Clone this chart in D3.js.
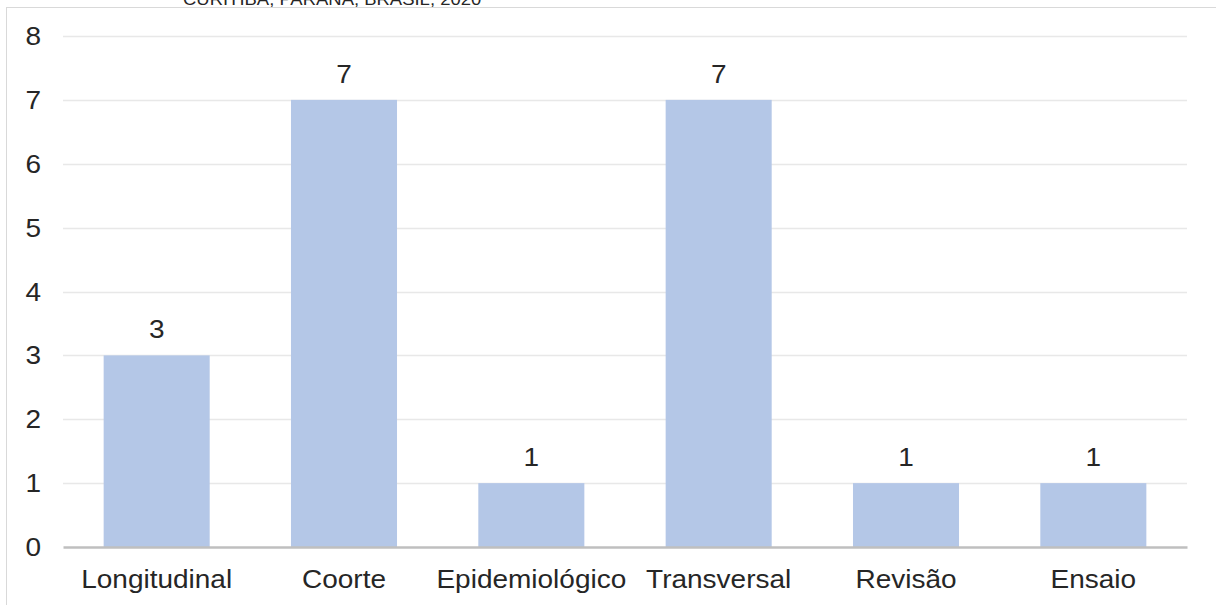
<!DOCTYPE html>
<html>
<head>
<meta charset="utf-8">
<script src="https://cdn.jsdelivr.net/npm/d3@7"></script>
<style>
  html, body { margin: 0; padding: 0; background: #fff; }
  svg { display: block; font-family: "Liberation Sans", Arial, sans-serif; }
</style>
</head>
<body>
<svg id="chart" width="1216" height="605"></svg>
<script>
// Study types and number of studies of each type
const categories = ["Longitudinal", "Coorte", "Epidemiológico", "Transversal", "Revisão", "Ensaio"];
const counts = [3, 7, 1, 7, 1, 1];
const yTicks = [0, 1, 2, 3, 4, 5, 6, 7, 8];
const titleText = "CURITIBA, PARANÁ, BRASIL, 2020";

const W = 1216, H = 605;
const margin = { left: 63, right: 29, top: 36, bottom: 58 };
const textColor = "#262626";
const stretch = 1.12;   // labels are set slightly wide

const svg = d3.select("#chart");

// Places a horizontally widened text label anchored at (x, y)
function label(parent, x, y, str, size, anchor) {
  const g = parent.append("g").attr("transform", `translate(${x},${y}) scale(${stretch},1)`);
  g.append("text")
    .attr("text-anchor", anchor)
    .attr("font-size", size)
    .attr("fill", textColor)
    .text(str);
  return g;
}

// Title line sitting above the chart frame (only its lower part shows)
label(svg, 183, 4.5, titleText, 16.5, "start");

// Chart frame
svg.append("rect")
  .attr("x", 6.5).attr("y", 7.5)
  .attr("width", W).attr("height", H)
  .attr("fill", "none").attr("stroke", "#d9d9d9").attr("stroke-width", 1);

const x = d3.scaleBand()
  .domain(categories)
  .range([margin.left, W - margin.right])
  .paddingInner(0.434).paddingOuter(0.217);

const y = d3.scaleLinear()
  .domain([0, 8])
  .range([H - margin.bottom, margin.top]);

// Horizontal gridlines
svg.append("g")
  .selectAll("line")
  .data(yTicks.filter(d => d > 0))
  .join("line")
  .attr("x1", margin.left).attr("x2", W - margin.right)
  .attr("y1", d => Math.round(y(d)) + 0.5).attr("y2", d => Math.round(y(d)) + 0.5)
  .attr("stroke", "#e8e8e8").attr("stroke-width", 1.5);

// Y axis labels
const yLabels = svg.append("g");
yTicks.forEach(t => label(yLabels, margin.left - 22, y(t) + 9, d3.format("d")(t), 25, "end"));

// Bars
const data = categories.map((c, i) => ({ c, v: counts[i] }));
svg.append("g")
  .selectAll("rect")
  .data(data)
  .join("rect")
  .attr("x", d => x(d.c))
  .attr("width", x.bandwidth())
  .attr("y", d => y(d.v))
  .attr("height", d => y(0) - y(d.v))
  .attr("fill", "#b4c7e7");

// Value labels above each bar
const valueLabels = svg.append("g");
data.forEach(d => label(valueLabels, x(d.c) + x.bandwidth() / 2, y(d.v) - 17, d.v, 25, "middle"));

// Baseline
const xAxis = d3.axisBottom(x).tickSize(0).tickFormat("");
const xg = svg.append("g").attr("transform", `translate(0,${y(0)})`).call(xAxis);
xg.select(".domain").attr("stroke", "#bfbfbf").attr("stroke-width", 2.5);

// Category labels
const catLabels = svg.append("g");
categories.forEach(c => label(catLabels, x(c) + x.bandwidth() / 2, 587.5, c, 25, "middle"));
</script>
</body>
</html>
